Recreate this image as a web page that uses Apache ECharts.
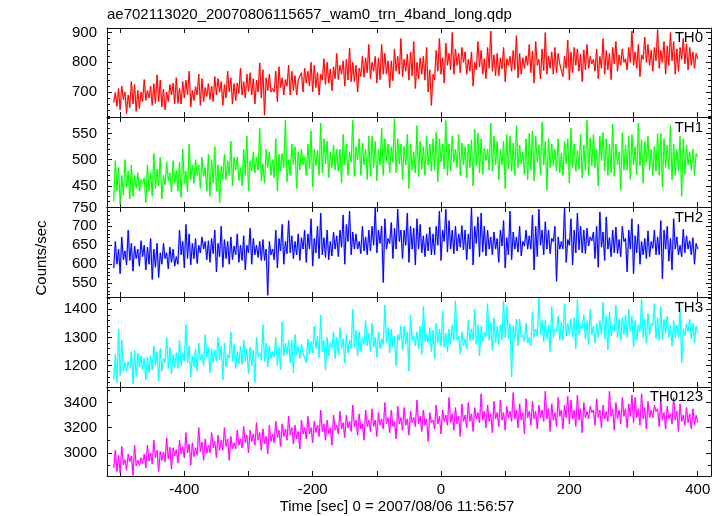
<!DOCTYPE html>
<html><head><meta charset="utf-8">
<script src="https://cdn.jsdelivr.net/npm/echarts@6/dist/echarts.min.js"></script>
<style>html,body{margin:0;padding:0;background:#fff}#c{width:724px;height:516px}</style>
</head><body><div id="c"></div>
<script>
const titleText = 'ae702113020_20070806115657_wam0_trn_4band_long.qdp';
const xTitle = 'Time [sec] 0 = 2007/08/06 11:56:57';
const yTitle = 'Counts/sec';
const panelNames = ['TH0', 'TH1', 'TH2', 'TH3', 'TH0123'];
const panelColors = ['#ff0000', '#00ff00', '#0000ff', '#00ffff', '#ff00ff'];

const times = [
-510,-507.5,-505,-502.5,-500,-497.5,-495,-492.5,-490,-487.5,-485,-482.5,-480,-477.5,-475,-472.5,-470,-467.5,-465,-462.5,
-460,-457.5,-455,-452.5,-450,-447.5,-445,-442.5,-440,-437.5,-435,-432.5,-430,-427.5,-425,-422.5,-420,-417.5,-415,-412.5,
-410,-407.5,-405,-402.5,-400,-397.5,-395,-392.5,-390,-387.5,-385,-382.5,-380,-377.5,-375,-372.5,-370,-367.5,-365,-362.5,
-360,-357.5,-355,-352.5,-350,-347.5,-345,-342.5,-340,-337.5,-335,-332.5,-330,-327.5,-325,-322.5,-320,-317.5,-315,-312.5,
-310,-307.5,-305,-302.5,-300,-297.5,-295,-292.5,-290,-287.5,-285,-282.5,-280,-277.5,-275,-272.5,-270,-267.5,-265,-262.5,
-260,-257.5,-255,-252.5,-250,-247.5,-245,-242.5,-240,-237.5,-235,-232.5,-230,-227.5,-225,-222.5,-220,-217.5,-215,-212.5,
-210,-207.5,-205,-202.5,-200,-197.5,-195,-192.5,-190,-187.5,-185,-182.5,-180,-177.5,-175,-172.5,-170,-167.5,-165,-162.5,
-160,-157.5,-155,-152.5,-150,-147.5,-145,-142.5,-140,-137.5,-135,-132.5,-130,-127.5,-125,-122.5,-120,-117.5,-115,-112.5,
-110,-107.5,-105,-102.5,-100,-97.5,-95,-92.5,-90,-87.5,-85,-82.5,-80,-77.5,-75,-72.5,-70,-67.5,-65,-62.5,
-60,-57.5,-55,-52.5,-50,-47.5,-45,-42.5,-40,-37.5,-35,-32.5,-30,-27.5,-25,-22.5,-20,-17.5,-15,-12.5,
-10,-7.5,-5,-2.5,0,2.5,5,7.5,10,12.5,15,17.5,20,22.5,25,27.5,30,32.5,35,37.5,
40,42.5,45,47.5,50,52.5,55,57.5,60,62.5,65,67.5,70,72.5,75,77.5,80,82.5,85,87.5,
90,92.5,95,97.5,100,102.5,105,107.5,110,112.5,115,117.5,120,122.5,125,127.5,130,132.5,135,137.5,
140,142.5,145,147.5,150,152.5,155,157.5,160,162.5,165,167.5,170,172.5,175,177.5,180,182.5,185,187.5,
190,192.5,195,197.5,200,202.5,205,207.5,210,212.5,215,217.5,220,222.5,225,227.5,230,232.5,235,237.5,
240,242.5,245,247.5,250,252.5,255,257.5,260,262.5,265,267.5,270,272.5,275,277.5,280,282.5,285,287.5,
290,292.5,295,297.5,300,302.5,305,307.5,310,312.5,315,317.5,320,322.5,325,327.5,330,332.5,335,337.5,
340,342.5,345,347.5,350,352.5,355,357.5,360,362.5,365,367.5,370,372.5,375,377.5,380,382.5,385,387.5,
390,392.5,395,397.5,400];

const th0 = [
665,698,652,712,640,720,675,700,628,690,648,735,660,725,635,705,645,700,668,742,
672,705,680,720,655,728,662,758,668,740,650,710,640,700,668,725,690,730,660,748,
662,712,660,735,680,740,690,770,650,705,672,718,690,760,655,745,668,715,685,728,
675,720,668,752,690,745,700,735,655,725,680,770,700,748,660,728,672,730,695,780,
690,735,680,760,702,765,690,745,660,740,700,798,680,775,622,748,705,760,700,712,
700,770,668,785,715,748,690,742,720,790,690,770,705,755,690,740,735,765,700,780,
730,770,720,800,700,790,715,765,690,760,740,812,725,800,730,778,705,785,745,830,
742,790,760,805,720,810,740,848,735,800,735,790,700,780,752,820,750,815,765,860,
745,800,770,820,730,815,742,860,760,830,760,805,715,805,738,845,770,820,760,880,
752,810,770,828,740,835,755,870,712,800,745,815,760,820,740,850,700,775,655,760,
740,840,770,880,760,815,730,865,790,830,775,900,760,845,790,830,765,850,800,835,
760,810,770,835,720,800,775,870,785,840,760,812,745,850,780,905,770,825,755,830,
755,815,778,850,735,812,790,820,770,840,775,890,748,830,760,815,780,822,790,860,
765,838,730,870,790,810,745,845,772,900,760,820,780,835,760,850,765,830,795,800,
752,820,780,875,740,835,765,850,790,845,770,828,735,842,775,860,780,820,795,810,
770,845,745,820,780,880,760,840,775,830,742,850,795,870,770,825,790,845,800,812,
775,850,800,905,790,835,780,860,752,825,810,885,800,860,790,840,770,850,805,910,
780,840,800,870,760,855,790,900,805,870,760,845,770,850,810,880,795,862,775,850,
790,835,780,830,812];

const th1 = [
420,498,440,485,415,470,432,500,448,478,425,490,430,470,445,475,440,462,455,465,
418,490,440,475,430,512,445,482,450,505,425,470,452,495,460,475,438,498,455,480,
440,495,428,520,455,478,438,530,462,490,455,500,470,490,445,505,468,485,440,510,
430,500,455,525,440,490,418,488,462,510,462,498,470,535,450,505,480,505,460,485,
450,520,470,545,440,498,478,515,475,505,480,560,460,492,455,520,485,515,470,500,
465,540,440,510,478,512,485,575,458,500,470,530,490,525,445,515,480,520,490,505,
470,530,482,555,448,520,488,518,470,570,475,540,492,535,465,515,485,528,480,520,
478,520,455,548,490,530,470,515,495,575,468,525,500,540,470,532,490,520,462,545,
468,545,485,535,460,520,490,560,470,540,498,530,475,525,495,578,475,540,492,530,
462,525,490,548,445,530,480,515,475,565,468,535,482,525,470,545,490,530,478,540,
480,552,458,540,495,530,482,575,470,530,478,545,495,520,485,548,470,532,490,525,
465,530,485,538,450,558,488,550,475,540,472,522,498,520,480,570,478,545,490,535,
462,520,490,535,445,548,482,545,478,532,470,565,485,528,492,515,472,540,462,550,
480,555,460,545,495,528,472,572,490,535,442,540,485,530,488,520,478,540,475,512,
470,535,492,540,455,560,485,530,478,518,482,548,465,528,480,575,470,542,488,548,
485,520,450,545,498,552,478,540,470,530,475,568,468,530,490,515,442,552,480,528,
480,545,462,548,490,525,472,570,488,538,455,535,495,545,480,520,470,525,478,550,
470,550,448,540,485,528,482,565,462,530,470,520,478,545,430,540,472,528,490,515,
480,520,470,512,505];

const th2 = [
590,660,600,640,575,672,612,635,598,690,610,655,582,648,615,640,595,662,620,650,
585,645,600,668,560,640,592,655,565,630,600,655,615,630,588,645,605,640,595,620,
600,690,625,660,590,705,615,680,598,655,615,668,602,650,630,672,640,660,612,662,
605,668,628,690,580,655,620,700,592,665,615,660,600,672,612,648,625,680,605,650,
610,675,585,650,630,695,600,668,625,650,618,660,610,665,610,640,518,660,625,640,
612,690,590,668,635,705,600,660,628,715,630,675,615,660,625,680,610,670,640,690,
605,680,640,720,595,668,630,700,615,735,625,670,618,690,612,660,622,685,640,675,
620,690,645,730,600,705,660,740,625,685,640,680,640,660,628,700,635,672,625,690,
635,700,650,748,630,690,655,700,552,720,640,668,655,710,615,695,640,745,660,690,
615,690,650,735,605,700,640,695,598,720,640,705,630,675,620,680,635,698,625,680,
625,700,650,740,610,690,660,745,632,715,640,690,628,700,635,680,645,702,638,690,
612,680,640,748,598,700,655,725,620,735,632,700,622,690,640,672,625,685,640,668,
605,690,648,715,590,670,625,740,612,685,640,672,632,700,622,660,648,690,640,675,
640,730,585,700,620,745,650,690,625,712,640,690,628,668,660,700,555,672,640,660,
640,748,605,665,650,720,598,690,630,735,638,700,630,690,628,695,648,672,662,685,
615,700,592,738,645,685,610,725,640,670,620,690,630,698,628,665,620,700,660,668,
580,690,640,720,575,675,630,705,600,660,625,668,615,688,620,660,642,690,625,672,
625,715,562,690,640,700,608,668,585,720,640,672,625,650,620,692,630,675,640,662,
625,670,600,655,640];

const th3 = [
1150,1240,1140,1330,1165,1290,1180,1210,1180,1215,1190,1250,1135,1255,1160,1245,1195,1235,1185,1225,
1150,1230,1175,1235,1185,1270,1200,1250,1145,1260,1180,1225,1210,1300,1190,1265,1170,1240,1195,1245,
1190,1290,1200,1245,1215,1345,1210,1270,1160,1235,1195,1260,1180,1280,1220,1240,1200,1310,1230,1265,
1175,1260,1210,1255,1215,1300,1220,1270,1150,1280,1195,1240,1225,1320,1215,1275,1190,1250,1205,1268,
1205,1290,1215,1260,1170,1265,1200,1255,1140,1300,1230,1245,1220,1345,1215,1280,1195,1270,1225,1250,
1230,1300,1200,1265,1185,1355,1235,1280,1240,1290,1210,1290,1175,1310,1240,1270,1225,1275,1245,1250,
1210,1295,1240,1285,1245,1340,1260,1305,1230,1380,1250,1290,1185,1300,1235,1280,1260,1320,1225,1300,
1240,1335,1260,1295,1210,1310,1245,1290,1260,1400,1265,1325,1235,1320,1250,1300,1275,1360,1270,1315,
1250,1350,1265,1300,1230,1320,1260,1295,1275,1415,1280,1335,1245,1330,1265,1305,1200,1310,1290,1340,
1255,1340,1275,1320,1180,1380,1290,1305,1270,1320,1260,1340,1240,1410,1285,1310,1280,1335,1250,1325,
1225,1350,1280,1330,1270,1395,1265,1315,1250,1330,1275,1345,1290,1430,1290,1305,1240,1320,1270,1295,
1260,1360,1290,1330,1290,1400,1275,1345,1235,1340,1285,1320,1300,1420,1290,1355,1255,1370,1280,1340,
1275,1345,1290,1430,1300,1410,1295,1350,1160,1340,1290,1365,1270,1365,1300,1310,1285,1350,1280,1300,
1270,1390,1300,1330,1305,1440,1310,1360,1285,1360,1295,1345,1250,1410,1300,1330,1320,1375,1290,1355,
1290,1420,1305,1350,1310,1365,1300,1370,1260,1435,1310,1345,1330,1380,1295,1360,1275,1400,1310,1340,
1280,1350,1300,1360,1310,1425,1295,1375,1255,1390,1305,1340,1320,1415,1300,1365,1290,1370,1310,1380,
1300,1400,1320,1375,1265,1360,1290,1345,1320,1435,1300,1365,1280,1385,1310,1350,1340,1420,1295,1370,
1290,1410,1290,1365,1315,1375,1300,1340,1270,1360,1300,1345,1300,1400,1210,1330,1305,1350,1320,1365,
1295,1350,1280,1340,1315];

const th0123 = [
2880,3020,2850,2980,2840,3050,2905,2945,2860,2990,2930,2975,2820,3060,2895,2940,2900,2960,2915,2990,
2880,3060,2935,3000,2910,3100,2960,3020,2850,3010,2940,3005,2930,3120,2950,3045,2870,3040,2975,3025,
2920,3100,2990,3050,2960,3160,3000,3070,2900,3080,2970,3040,2980,3200,3010,3085,2940,3110,2995,3060,
3000,3160,3040,3090,2960,3140,3020,3100,3020,3200,3050,3110,2940,3130,3030,3080,3030,3180,3060,3110,
3040,3210,3080,3140,3000,3180,3090,3150,3060,3240,3100,3160,3020,3190,3070,3130,2990,3220,3090,3150,
3080,3250,3120,3180,3050,3230,3130,3190,3100,3290,3140,3200,3070,3220,3110,3170,3030,3260,3150,3200,
3110,3290,3150,3200,3080,3250,3160,3220,3130,3340,3170,3230,3100,3260,3150,3200,3060,3300,3180,3220,
3150,3330,3190,3240,3120,3300,3200,3250,3170,3380,3210,3260,3140,3310,3190,3230,3100,3340,3210,3260,
3170,3350,3210,3260,3130,3320,3220,3270,3190,3400,3230,3280,3160,3340,3210,3250,3110,3370,3230,3280,
3180,3360,3220,3270,3140,3330,3240,3280,3210,3420,3230,3290,3170,3340,3220,3270,3090,3320,3240,3260,
3190,3380,3230,3290,3150,3340,3250,3300,3220,3440,3240,3310,3180,3360,3230,3290,3130,3390,3250,3300,
3200,3400,3250,3310,3170,3360,3270,3320,3240,3470,3260,3330,3200,3380,3250,3310,3160,3410,3270,3320,
3210,3420,3260,3320,3180,3370,3280,3330,3250,3480,3270,3340,3200,3390,3260,3320,3150,3430,3280,3330,
3220,3410,3270,3330,3190,3380,3280,3340,3250,3490,3270,3350,3170,3390,3260,3320,3210,3440,3290,3340,
3190,3380,3280,3450,3230,3420,3270,3340,3210,3460,3260,3350,3160,3400,3280,3330,3270,3370,3320,3340,
3220,3430,3280,3340,3200,3380,3270,3330,3250,3490,3290,3350,3180,3400,3270,3340,3230,3440,3290,3350,
3200,3390,3290,3460,3240,3440,3280,3350,3220,3470,3270,3360,3190,3410,3280,3340,3280,3380,3330,3350,
3210,3420,3260,3320,3190,3370,3270,3310,3230,3440,3260,3330,3170,3390,3250,3300,3220,3360,3240,3310,
3190,3350,3220,3300,3240];

const seriesValues = [th0, th1, th2, th3, th0123];

const xTickLabels = [-400, -200, 0, 200, 400];
const xTickValues = [-500, -400, -300, -200, -100, 0, 100, 200, 300, 400];
const xRange = [-520.5, 420.7];
const yRanges = [[616, 915.5], [409.6, 581.5], [513.6, 751], [1124, 1443.6], [2815, 3524]];
const yMajorLabels = [[700, 800, 900], [450, 500, 550], [550, 600, 650, 700, 750], [1200, 1300, 1400], [3000, 3200, 3400]];
const yMinorStep = [20, 10, 10, 20, 100];

const FONT = "'Liberation Sans', Arial, Helvetica, sans-serif";
const gridTops = [28, 117, 207, 297, 387];
const gridHeights = [89, 90, 90, 90, 89];
const gridLeft = 107, gridWidth = 604;

function minorTicks(r, step) {
  const out = [];
  for (let v = Math.ceil(r[0] / step) * step; v <= r[1]; v += step) out.push(v);
  return out;
}
const plainNum = (v) => String(Math.round(v));

const grids = [], xAxes = [], yAxes = [], series = [], graphics = [];
const lineCol = '#111';
for (let i = 0; i < 5; i++) {
  grids.push({ left: gridLeft, top: gridTops[i], width: gridWidth, height: gridHeights[i], containLabel: false });
  const isLast = i === 4;
  ['bottom', 'top'].forEach((pos) => {
    xAxes.push({
      type: 'value', gridIndex: i, position: pos, min: xRange[0], max: xRange[1],
      axisLine: { show: true, onZero: false, lineStyle: { color: lineCol, width: 1 } },
      axisTick: { show: true, inside: true, length: 5, customValues: xTickValues, lineStyle: { color: lineCol } },
      axisLabel: (isLast && pos === 'bottom') ? { show: true, customValues: xTickLabels, formatter: plainNum, fontSize: 15, color: '#000', fontFamily: FONT, margin: 6 } : { show: false },
      splitLine: { show: false }
    });
  });
  const r = yRanges[i];
  const minors = minorTicks(r, yMinorStep[i]);
  ['left', 'right'].forEach((pos) => {
    yAxes.push({
      type: 'value', gridIndex: i, position: pos, min: r[0], max: r[1],
      axisLine: { show: true, onZero: false, lineStyle: { color: lineCol, width: 1 } },
      axisTick: { show: true, inside: true, length: 5, customValues: yMajorLabels[i], lineStyle: { color: lineCol } },
      axisLabel: pos === 'left' ? { show: true, customValues: yMajorLabels[i], formatter: plainNum, fontSize: 15, color: '#000', fontFamily: FONT, margin: 10 } : { show: false },
      splitLine: { show: false }
    });
    yAxes.push({
      type: 'value', gridIndex: i, position: pos, min: r[0], max: r[1],
      axisLine: { show: false, onZero: false },
      axisTick: { show: true, inside: true, length: 3, customValues: minors, lineStyle: { color: lineCol } },
      axisLabel: { show: false },
      splitLine: { show: false }
    });
  });
  const vals = seriesValues[i];
  const pts = times.map((t, j) => [t, vals[j]]);
  series.push({
    type: 'line', xAxisIndex: 2 * i, yAxisIndex: 4 * i, data: pts, z: 1,
    showSymbol: false, symbol: 'none', animation: false, clip: true, silent: true,
    lineStyle: { width: 2, color: panelColors[i], opacity: 0.25 }, itemStyle: { color: panelColors[i] }
  });
  series.push({
    type: 'line', xAxisIndex: 2 * i, yAxisIndex: 4 * i, data: pts, z: 2,
    showSymbol: false, symbol: 'none', animation: false, clip: true,
    lineStyle: { width: 1, color: panelColors[i] }, itemStyle: { color: panelColors[i] }
  });
}

const panelLabelY = [38, 128, 218, 308, 397];
for (let i = 0; i < 5; i++) {
  graphics.push({ type: 'text', z: 100, x: 703, y: panelLabelY[i],
    style: { text: panelNames[i], fill: '#000', font: '15px ' + FONT, textAlign: 'right', textVerticalAlign: 'middle' } });
}
graphics.push({ type: 'text', z: 100, x: 107, y: 15,
  style: { text: titleText, fill: '#000', font: '15px ' + FONT, textAlign: 'left', textVerticalAlign: 'middle' } });
graphics.push({ type: 'text', z: 100, x: 397, y: 507,
  style: { text: xTitle, fill: '#000', font: '15px ' + FONT, textAlign: 'center', textVerticalAlign: 'middle' } });
graphics.push({ type: 'text', z: 100, x: 42, y: 258, rotation: Math.PI / 2,
  style: { text: yTitle, fill: '#000', font: '15px ' + FONT, textAlign: 'center', textVerticalAlign: 'middle' } });

const chart = echarts.init(document.getElementById('c'), null, { renderer: 'canvas' });
chart.setOption({
  animation: false,
  backgroundColor: '#ffffff',
  grid: grids, xAxis: xAxes, yAxis: yAxes, series: series, graphic: graphics
});
</script></body></html>
